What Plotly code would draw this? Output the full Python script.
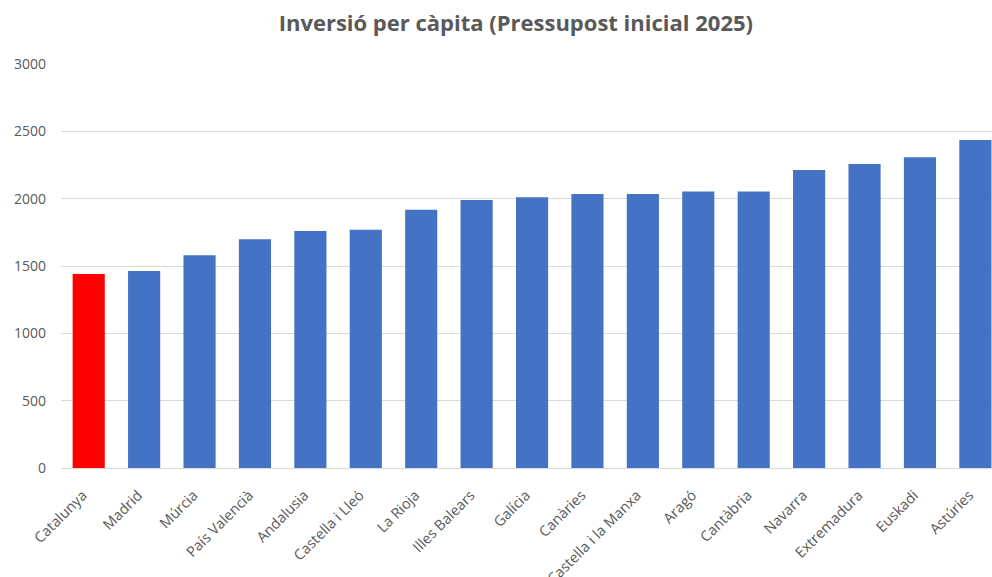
import plotly.graph_objects as go

# Inversió per càpita per comunitat (pressupost inicial 2025)
regions = [
    "Catalunya", "Madrid", "Múrcia", "País Valencià", "Andalusia",
    "Castella i Lleó", "La Rioja", "Illes Balears", "Galícia", "Canàries",
    "Castella i la Manxa", "Aragó", "Cantàbria", "Navarra", "Extremadura",
    "Euskadi", "Astúries",
]
investment = [
    1440, 1463, 1579, 1698, 1760,
    1770, 1918, 1990, 2010, 2035,
    2035, 2054, 2054, 2213, 2257,
    2307, 2435,
]
highlight = "Catalunya"

bar_colors = ["#FF0000" if r == highlight else "#4472C4" for r in regions]

text_grey = "#595959"
font_family = "Open Sans, DejaVu Sans, sans-serif"

fig = go.Figure(
    go.Bar(
        x=regions,
        y=investment,
        marker=dict(color=bar_colors, line=dict(width=0)),
        hoverinfo="x+y",
    )
)

fig.update_layout(
    width=992,
    height=577,
    margin=dict(l=61, r=0, t=64, b=109),
    paper_bgcolor="white",
    plot_bgcolor="white",
    bargap=0.42,
    showlegend=False,
    title=dict(
        text="<b>Inversió per càpita (Pressupost inicial 2025)</b>",
        x=0.52,
        xanchor="center",
        y=0.96,
        yanchor="middle",
        font=dict(family=font_family, size=22, color=text_grey),
    ),
    xaxis=dict(
        range=[-0.5, 16.3],
        tickangle=-45,
        tickfont=dict(family=font_family, size=14.5, color=text_grey),
        showgrid=False,
        showline=False,
        ticks="",
        ticklabelstandoff=15,
        ticklabelshift=-6,
        automargin=False,
        fixedrange=True,
    ),
    yaxis=dict(
        range=[0, 3000],
        tickvals=[0, 500, 1000, 1500, 2000, 2500, 3000],
        tickfont=dict(family=font_family, size=14, color=text_grey),
        showgrid=True,
        gridcolor="#D9D9D9",
        gridwidth=1,
        zeroline=True,
        zerolinecolor="#D9D9D9",
        zerolinewidth=1,
        showline=False,
        ticks="",
        ticklabelstandoff=14,
        automargin=False,
        fixedrange=True,
    ),
)

fig.write_html("out.html")
